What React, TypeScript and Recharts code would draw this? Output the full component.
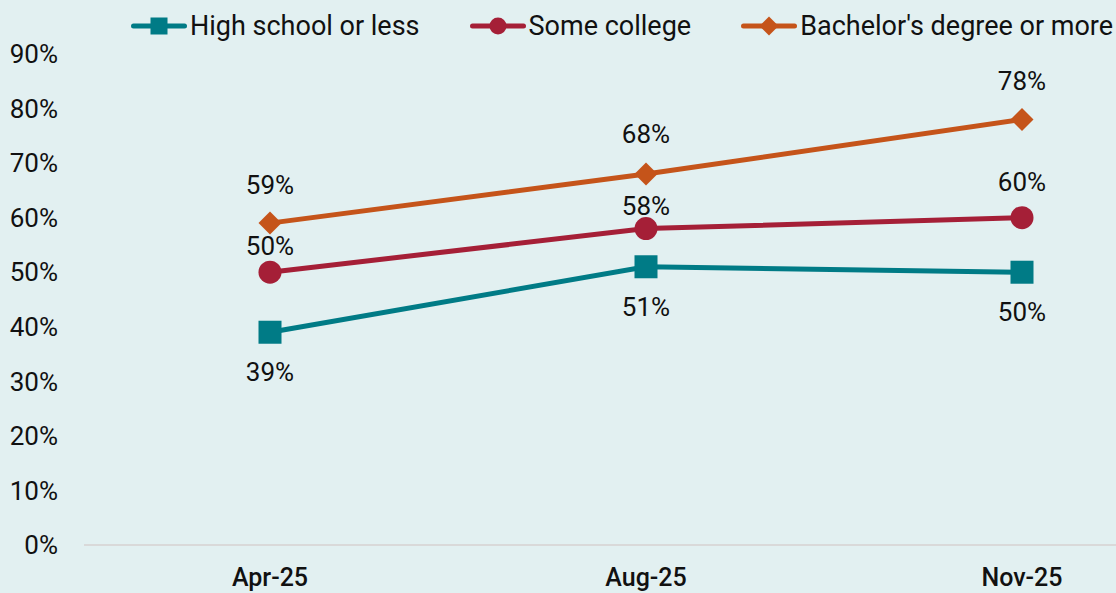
import { LineChart, Line, XAxis, YAxis, Legend } from "recharts";

// survey share by education level, three waves
const CATEGORIES = ["Apr-25", "Aug-25", "Nov-25"];
const HIGH_SCHOOL = [39, 51, 50];
const SOME_COLLEGE = [50, 58, 60];
const BACHELORS = [59, 68, 78];
const Y_TICKS = [0, 10, 20, 30, 40, 50, 60, 70, 80, 90];

const TEAL = "#007b86";
const RED = "#a51f37";
const ORANGE = "#c5541a";
const BG = "#e2f0f1";
const FONT = "Roboto, 'Noto Sans', sans-serif";

const data = CATEGORIES.map((c, i) => ({
  date: c,
  hs: HIGH_SCHOOL[i],
  sc: SOME_COLLEGE[i],
  ba: BACHELORS[i],
}));

const SERIES = [
  { key: "hs", name: "High school or less", color: TEAL, shape: "square" },
  { key: "sc", name: "Some college", color: RED, shape: "circle" },
  { key: "ba", name: "Bachelor's degree or more", color: ORANGE, shape: "diamond" },
];

// label distance from the point (px, + above / - below)
const LABEL_SHIFT: Record<string, number[]> = {
  hs: [-40, -40, -40],
  sc: [26, 23, 36],
  ba: [38, 40, 38],
};

function Marker({ shape, cx, cy, size, color }: any) {
  const h = size / 2;
  if (shape === "square")
    return <rect x={cx - h} y={cy - h} width={size} height={size} fill={color} />;
  if (shape === "circle") return <circle cx={cx} cy={cy} r={h} fill={color} />;
  return (
    <polygon
      points={`${cx},${cy - h} ${cx + h},${cy} ${cx},${cy + h} ${cx - h},${cy}`}
      fill={color}
    />
  );
}

const makeDot = (shape: string, color: string) => (p: any) =>
  <Marker key={p.index} shape={shape} cx={p.cx} cy={p.cy} size={23} color={color} />;

const makeLabel = (key: string) => (p: any) =>
  (
    <text
      key={p.index}
      x={p.x}
      y={p.y - LABEL_SHIFT[key][p.index]}
      textAnchor="middle"
      dominantBaseline="central"
      fontSize={26}
      fontFamily={FONT}
      fill="#111"
    >
      {p.value}%
    </text>
  );

const LegendContent = () => (
  <div style={{ display: "flex", paddingLeft: 131, gap: 50, alignItems: "center", height: 40 }}>
    {SERIES.map((s) => (
      <div key={s.key} style={{ display: "flex", alignItems: "center" }}>
        <svg width={56} height={24}>
          <line x1={2.5} y1={12} x2={53.5} y2={12} stroke={s.color} strokeWidth={5} strokeLinecap="round" />
          <Marker shape={s.shape} cx={28} cy={12} size={s.shape === "diamond" ? 19 : 17} color={s.color} />
        </svg>
        <span style={{ marginLeft: 3, fontSize: 27, fontFamily: FONT, color: "#111" }}>{s.name}</span>
      </div>
    ))}
  </div>
);

export default function App() {
  return (
    <div style={{ position: "absolute", left: 0, top: 0, width: 1116, height: 593, background: BG, overflow: "hidden" }}>
      <LineChart width={1116} height={593} data={data} margin={{ top: 14, right: 0, bottom: 0, left: 0 }}>
        <Legend
          verticalAlign="top"
          align="left"
          content={<LegendContent />}
          wrapperStyle={{ top: 6, left: 0, width: 1116, height: 40 }}
        />
        <XAxis
          dataKey="date"
          padding={{ left: 186, right: 94 }}
          height={48}
          axisLine={{ stroke: "#d9d9d9", strokeWidth: 2 }}
          tickLine={false}
          tickMargin={17}
          tick={{ fontSize: 25, fontFamily: FONT, fontWeight: 500, fill: "#111" }}
        />
        <YAxis
          width={84}
          domain={[0, 90]}
          ticks={Y_TICKS}
          axisLine={false}
          tickLine={false}
          tickMargin={20}
          tickFormatter={(v) => `${v}%`}
          tick={{ fontSize: 26, fontFamily: FONT, fill: "#111" }}
        />
        {SERIES.map((s) => (
          <Line
            key={s.key}
            type="linear"
            dataKey={s.key}
            name={s.name}
            stroke={s.color}
            strokeWidth={5}
            dot={makeDot(s.shape, s.color)}
            activeDot={false}
            label={makeLabel(s.key)}
            isAnimationActive={false}
          />
        ))}
      </LineChart>
    </div>
  );
}
